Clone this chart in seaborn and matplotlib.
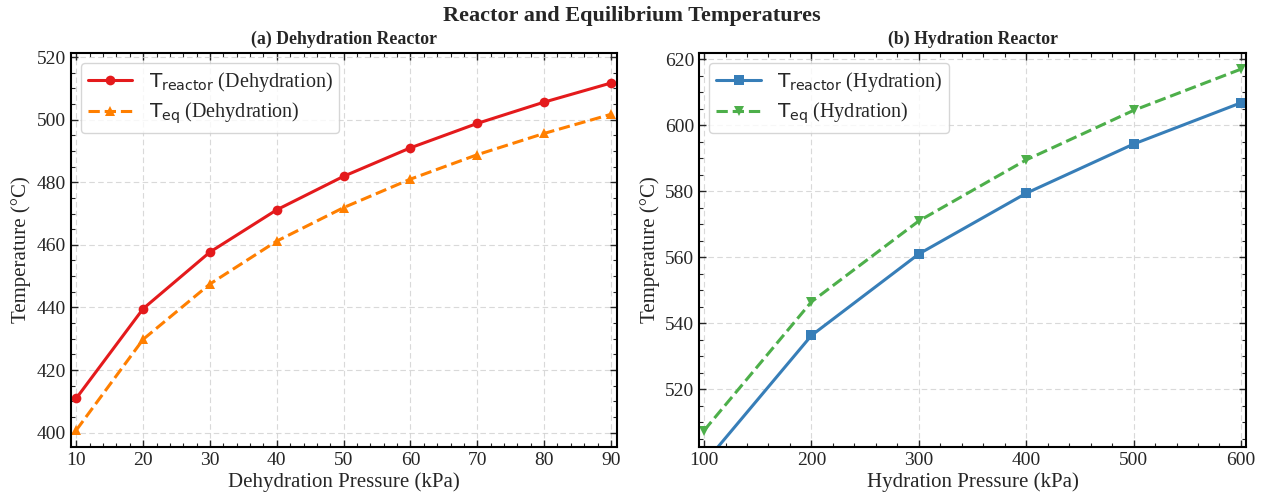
import numpy as np
import pandas as pd
import matplotlib
matplotlib.use("Agg")
import matplotlib.pyplot as plt
import seaborn as sns
from matplotlib.ticker import AutoMinorLocator

# dehydration side (kPa, degC)
dehyd_pressure = [10, 20, 30, 40, 50, 60, 70, 80, 90]
dehyd_t_reactor = [411.0, 439.6, 457.7, 471.2, 481.9, 491.0, 498.8, 505.6, 511.7]
dehyd_t_eq = [400.8, 429.8, 447.5, 461.2, 471.9, 481.0, 488.8, 495.6, 501.7]

# hydration side (kPa, degC)
hyd_pressure = [100, 200, 300, 400, 500, 600]
hyd_t_reactor = [497.5, 536.3, 561.0, 579.4, 594.3, 606.8]
hyd_t_eq = [507.5, 546.5, 571.0, 589.5, 604.5, 617.0]

sns.set_style("ticks")
plt.rcParams['font.family'] = ['Liberation Serif', 'DejaVu Serif']
plt.rcParams['mathtext.fontset'] = 'dejavusans'

fig = plt.figure(figsize=(12.63, 4.99), dpi=100)
ax1 = fig.add_axes([0.0562, 0.1048, 0.4323, 0.7884])
ax2 = fig.add_axes([0.5537, 0.1048, 0.4326, 0.7884])

df_dehyd = pd.DataFrame({'p': dehyd_pressure, 'tr': dehyd_t_reactor, 'te': dehyd_t_eq})
df_hyd = pd.DataFrame({'p': hyd_pressure, 'tr': hyd_t_reactor, 'te': hyd_t_eq})

sns.lineplot(data=df_dehyd, x='p', y='tr', ax=ax1, color='#e41a1c', marker='o',
             markersize=7, markeredgewidth=0, linewidth=2.2,
             label=r'$\mathrm{T}_{\mathrm{reactor}}$ (Dehydration)')
sns.lineplot(data=df_dehyd, x='p', y='te', ax=ax1, color='#ff7f00', marker='^',
             markersize=7, markeredgewidth=0, linewidth=2.2, linestyle='--',
             label=r'$\mathrm{T}_{\mathrm{eq}}$ (Dehydration)')
sns.lineplot(data=df_hyd, x='p', y='tr', ax=ax2, color='#377eb8', marker='s',
             markersize=7, markeredgewidth=0, linewidth=2.2,
             label=r'$\mathrm{T}_{\mathrm{reactor}}$ (Hydration)')
sns.lineplot(data=df_hyd, x='p', y='te', ax=ax2, color='#4daf4a', marker='v',
             markersize=7, markeredgewidth=0, linewidth=2.2, linestyle='--',
             label=r'$\mathrm{T}_{\mathrm{eq}}$ (Hydration)')

ax1.set_xlim(9.2, 90.9)
ax1.set_ylim(395.5, 521.2)
ax1.set_xticks(dehyd_pressure)
ax2.set_xlim(95.6, 604.4)
ax2.set_ylim(502.6, 621.8)

for ax, xl, ttl in [(ax1, 'Dehydration Pressure (kPa)', '(a) Dehydration Reactor'),
                    (ax2, 'Hydration Pressure (kPa)', '(b) Hydration Reactor')]:
    ax.set_xlabel(xl, fontsize=15, labelpad=3)
    ax.set_ylabel('Temperature (°C)', fontsize=15, labelpad=4)
    ax.set_title(ttl, fontsize=12.8, fontweight='bold', pad=7)
    ax.grid(True, linestyle=(0, (5, 3)), color='#d0d0d0', linewidth=0.8, alpha=0.8)
    ax.xaxis.set_minor_locator(AutoMinorLocator())
    ax.yaxis.set_minor_locator(AutoMinorLocator())
    ax.tick_params(which='both', direction='in', top=True, right=True, labelsize=14)
    ax.tick_params(which='major', length=5, width=1)
    ax.tick_params(which='minor', length=3, width=0.8)
    for s in ax.spines.values():
        s.set_linewidth(1.5)
        s.set_color('black')
    ax.legend(loc='upper left', fontsize=14.5, frameon=True, fancybox=True,
              framealpha=0.8, edgecolor='#cccccc', handlelength=2.2,
              labelspacing=0.3, borderpad=0.35)

fig.suptitle('Reactor and Equilibrium Temperatures', fontsize=16, fontweight='bold', y=0.988)

fig.savefig('out.png', dpi=100)
